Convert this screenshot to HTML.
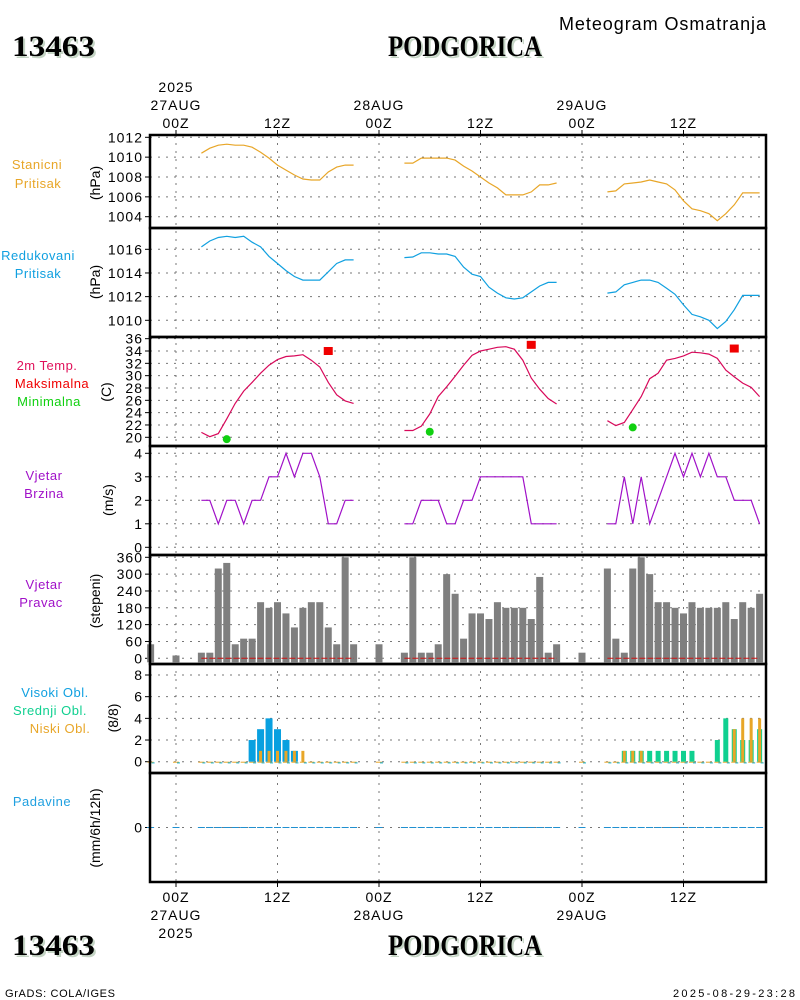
<!DOCTYPE html>
<html><head><meta charset="utf-8"><title>Meteogram Osmatranja - Podgorica</title>
<style>
html,body{margin:0;padding:0;background:#fff;}
svg{display:block;}
text{font-family:"Liberation Sans",sans-serif;}
.tk{font-size:14px;fill:#000;letter-spacing:1px;}
.lab{font-size:13px;letter-spacing:0.5px;}
.ttl{font-family:"Liberation Serif",serif;font-weight:bold;font-size:30px;}
</style></head>
<body>
<svg id="chart" width="800" height="1000" viewBox="0 0 800 1000" xmlns="http://www.w3.org/2000/svg">
  <g>
    <text x="14" y="58" class="ttl" fill="#c5d5c5" textLength="83" lengthAdjust="spacingAndGlyphs">13463</text>
    <text x="12" y="56" class="ttl" fill="#000" textLength="83" lengthAdjust="spacingAndGlyphs">13463</text>
    <text x="390" y="58" class="ttl" fill="#c5d5c5" textLength="154" lengthAdjust="spacingAndGlyphs">PODGORICA</text>
    <text x="388" y="56" class="ttl" fill="#000" textLength="154" lengthAdjust="spacingAndGlyphs">PODGORICA</text>
    <text x="559" y="30" font-size="18" textLength="207">Meteogram Osmatranja</text>
  </g>
  <g>
    <text x="14" y="957" class="ttl" fill="#c5d5c5" textLength="83" lengthAdjust="spacingAndGlyphs">13463</text>
    <text x="12" y="955" class="ttl" fill="#000" textLength="83" lengthAdjust="spacingAndGlyphs">13463</text>
    <text x="390" y="957" class="ttl" fill="#c5d5c5" textLength="154" lengthAdjust="spacingAndGlyphs">PODGORICA</text>
    <text x="388" y="955" class="ttl" fill="#000" textLength="154" lengthAdjust="spacingAndGlyphs">PODGORICA</text>
    <text x="5" y="997" font-size="11" textLength="110">GrADS: COLA/IGES</text>
    <text x="795" y="997" font-size="11" text-anchor="end" textLength="122">2025-08-29-23:28</text>
  </g>
  <g>
    <text x="37" y="169" class="lab" fill="#e8a628" text-anchor="middle">Stanicni</text>
    <text x="38" y="188" class="lab" fill="#e8a628" text-anchor="middle">Pritisak</text>
    <text x="38" y="260" class="lab" fill="#10a0e0" text-anchor="middle">Redukovani</text>
    <text x="38" y="278" class="lab" fill="#10a0e0" text-anchor="middle">Pritisak</text>
    <text x="47" y="370" class="lab" fill="#e0105a" text-anchor="middle">2m Temp.</text>
    <text x="52" y="388" class="lab" fill="#f00000" text-anchor="middle">Maksimalna</text>
    <text x="49" y="406" class="lab" fill="#10d010" text-anchor="middle">Minimalna</text>
    <text x="44" y="480" class="lab" fill="#a010c8" text-anchor="middle">Vjetar</text>
    <text x="44" y="498" class="lab" fill="#a010c8" text-anchor="middle">Brzina</text>
    <text x="44" y="589" class="lab" fill="#a010c8" text-anchor="middle">Vjetar</text>
    <text x="41" y="607" class="lab" fill="#a010c8" text-anchor="middle">Pravac</text>
    <text x="55" y="697" class="lab" fill="#10a0e0" text-anchor="middle">Visoki Obl.</text>
    <text x="50" y="715" class="lab" fill="#10d090" text-anchor="middle">Srednji Obl.</text>
    <text x="60" y="733" class="lab" fill="#e8a628" text-anchor="middle">Niski Obl.</text>
    <text x="42" y="806" class="lab" fill="#20a0e0" text-anchor="middle">Padavine</text>
  </g>
  <g font-size="14">
    <text transform="translate(100,183) rotate(-90)" text-anchor="middle">(hPa)</text>
    <text transform="translate(100,282) rotate(-90)" text-anchor="middle">(hPa)</text>
    <text transform="translate(111,392) rotate(-90)" text-anchor="middle">(C)</text>
    <text transform="translate(113,500) rotate(-90)" text-anchor="middle">(m/s)</text>
    <text transform="translate(100,601) rotate(-90)" text-anchor="middle">(stepeni)</text>
    <text transform="translate(118,718) rotate(-90)" text-anchor="middle">(8/8)</text>
    <text transform="translate(100,828) rotate(-90)" text-anchor="middle">(mm/6h/12h)</text>
  </g>
  <g id="plot"></g>
</svg>
<script>
// ---- data (hour offsets from 2025-08-27 00Z) ----
const segStarts = [3, 27, 51];
const stnP1 = [1010.4,1010.9,1011.2,1011.3,1011.2,1011.2,1011.0,1010.5,1009.9,1009.2,1008.7,1008.2,1007.8,1007.7,1007.7,1008.5,1009.0,1009.2,1009.2];
const stnP2 = [1009.4,1009.4,1009.9,1009.9,1009.9,1009.9,1009.7,1009.1,1008.6,1008.0,1007.4,1006.9,1006.2,1006.2,1006.2,1006.5,1007.2,1007.2,1007.4];
const stnP3 = [1006.5,1006.6,1007.3,1007.4,1007.5,1007.7,1007.5,1007.3,1006.7,1005.6,1004.8,1004.6,1004.3,1003.6,1004.3,1005.2,1006.4,1006.4,1006.4];
const redP1 = [1016.2,1016.7,1017.0,1017.1,1017.0,1017.1,1016.6,1016.2,1015.4,1014.8,1014.2,1013.7,1013.4,1013.4,1013.4,1014.1,1014.8,1015.1,1015.1];
const redP2 = [1015.3,1015.35,1015.7,1015.7,1015.6,1015.6,1015.4,1014.5,1013.9,1013.7,1012.8,1012.3,1011.9,1011.8,1011.9,1012.4,1012.9,1013.2,1013.2];
const redP3 = [1012.3,1012.4,1013.0,1013.2,1013.4,1013.4,1013.2,1012.7,1012.2,1011.3,1010.5,1010.3,1010.0,1009.3,1009.9,1010.9,1012.1,1012.1,1012.1];
const temp1 = [20.8,20.1,20.6,23.0,25.5,27.5,28.9,30.4,31.7,32.6,33.1,33.2,33.4,32.5,31.4,28.9,26.9,25.9,25.5];
const temp2 = [21.1,21.1,21.8,23.8,26.6,28.2,29.9,31.7,33.3,34.0,34.3,34.6,34.7,34.3,32.5,29.6,27.8,26.3,25.4];
const temp3 = [22.7,21.9,22.4,24.5,26.6,29.5,30.4,32.5,32.8,33.2,33.8,33.7,33.5,32.8,30.9,29.8,28.8,28.1,26.6];
const wspd1 = [2,2,1,2,2,1,2,2,3,3,4,3,4,4,3,1,1,2,2];
const wspd2 = [1,1,2,2,2,1,1,2,2,3,3,3,3,3,3,1,1,1,1];
const wspd3 = [1,1,3,1,3,1,2,3,4,3,4,3,4,3,3,2,2,2,1];
const tmaxHours = [18, 42, 66];
const tmaxValues = [34.0, 35.0, 34.4];
const tminHours = [6, 30, 54];
const tminValues = [19.7, 20.9, 21.6];
const dirHours = [-3,0,3,4,5,6,7,8,9,10,11,12,13,14,15,16,17,18,19,20,21,24,27,28,29,30,31,32,33,34,35,36,37,38,39,40,41,42,43,44,45,48,51,52,53,54,55,56,57,58,59,60,61,62,63,64,65,66,67,68,69];
const dirValues = [50,10,20,20,320,340,50,70,70,200,180,200,160,110,180,200,200,110,50,360,50,50,20,360,20,20,50,300,230,70,160,160,140,200,180,180,180,140,290,20,50,20,320,70,20,320,360,300,200,200,180,160,200,180,180,180,200,140,200,180,230];
const highCloudHours = [9,10,11,12,13,14];
const highCloudValues = [2,3,4,3,2,1];
const midCloudHours = [53,54,55,56,57,58,59,60,61,64,65,66,67,68,69];
const midCloudValues = [1,1,1,1,1,1,1,1,1,2,4,3,2,2,3];
const lowCloudHours = [10,11,12,13,14,15,53,54,55,66,67,68,69];
const lowCloudValues = [1,1,1,1,1,1,1,1,1,3,4,4,4];
const p1Ticks = [1012,1010,1008,1006,1004];
const p2Ticks = [1016,1014,1012,1010];
const tTicks = [36,34,32,30,28,26,24,22,20];
const wsTicks = [4,3,2,1,0];
const wdTicks = [360,300,240,180,120,60,0];
const clTicks = [8,6,4,2,0];
const prTicks = [0];
const timeTicks = [0,12,24,36,48,60];
const timeTopLabels = [["2025","27AUG","00Z"],["","","12Z"],["","28AUG","00Z"],["","","12Z"],["","29AUG","00Z"],["","","12Z"]];
const timeBotLabels = [["00Z","27AUG","2025"],["12Z","",""],["00Z","28AUG",""],["12Z","",""],["00Z","29AUG",""],["12Z","",""]];

// ---- layout ----
const NS = "http://www.w3.org/2000/svg";
const plot = document.getElementById('plot');
const X0 = 150, X1 = 766;
const xs = h => 176 + h * 101.5 / 12;
function lin(v0, y0, v1, y1){ return v => y0 + (v - v0) * (y1 - y0) / (v1 - v0); }
const yP1 = lin(1012, 137.3, 1004, 216.7);
const yP2 = lin(1016, 249.3, 1010, 320.3);
const yT = lin(34, 351, 20, 437.3);
const yWS = lin(4, 453.3, 0, 547.3);
const yWD = lin(360, 557.3, 0, 658.3);
const yCL = lin(8, 675, 0, 761.7);
const yPR = v => 827.5 - v * 20;
const panelEdges = [135, 228, 337, 446, 555, 664, 773, 882];

function mk(tag, attrs, parent){
  const e = document.createElementNS(NS, tag);
  for (const k in attrs) e.setAttribute(k, attrs[k]);
  (parent || plot).appendChild(e);
  return e;
}

const gridG = mk('g', {});


function yAxis(ticks, ys, name){
  ticks.forEach(t => {
    const y = ys(t);
    const gl = mk('line', {x1: X0, x2: X1, y1: y, y2: y, stroke: '#777', 'stroke-width': 1, 'stroke-dasharray': '2,6'}, gridG);
    
    
    const tm = mk('line', {x1: X0 - 5, x2: X0, y1: y, y2: y, stroke: '#000', 'stroke-width': 1}, gridG);
    
    
    const tx = mk('text', {x: X0 - 7, y: y + 5, 'text-anchor': 'end', class: 'tk'}, gridG);
    tx.textContent = t;
    
    
  });
}
yAxis(p1Ticks, yP1, 'station-pressure-axis');
yAxis(p2Ticks, yP2, 'reduced-pressure-axis');
yAxis(tTicks, yT, 'temperature-axis');
yAxis(wsTicks, yWS, 'wind-speed-axis');
yAxis(wdTicks, yWD, 'wind-direction-axis');
yAxis(clTicks, yCL, 'cloud-axis');
yAxis(prTicks, yPR, 'precip-axis');

timeTicks.forEach((h, i) => {
  const x = xs(h);
  const vl = mk('line', {x1: x, x2: x, y1: 135, y2: 882, stroke: '#777', 'stroke-width': 1, 'stroke-dasharray': '2,6'}, gridG);
  
  
  const t1 = mk('line', {x1: x, x2: x, y1: 130, y2: 135, stroke: '#000'}, gridG);
  
  
  const t2 = mk('line', {x1: x, x2: x, y1: 882, y2: 887, stroke: '#000'}, gridG);
  
  
  [92, 110, 128].forEach((y, j) => {
    if (!timeTopLabels[i][j]) return;
    const t = mk('text', {x: x, y: y, 'text-anchor': 'middle', class: 'tk'}, gridG);
    t.textContent = timeTopLabels[i][j];
    
    
  });
  [902, 920, 938].forEach((y, j) => {
    if (!timeBotLabels[i][j]) return;
    const t = mk('text', {x: x, y: y, 'text-anchor': 'middle', class: 'tk'}, gridG);
    t.textContent = timeBotLabels[i][j];
    
    
  });
});

function drawLine(vals, start, ys, color, name){
  const pts = vals.map((v, i) => xs(start + i).toFixed(1) + ',' + ys(v).toFixed(1)).join(' ');
  const p = mk('polyline', {points: pts, fill: 'none', stroke: color, 'stroke-width': 1.2});
  
  
}
[stnP1, stnP2, stnP3].forEach((s, i) => drawLine(s, segStarts[i], yP1, '#e8a628', 'station-pressure-line'));
[redP1, redP2, redP3].forEach((s, i) => drawLine(s, segStarts[i], yP2, '#10a0e0', 'reduced-pressure-line'));
[temp1, temp2, temp3].forEach((s, i) => drawLine(s, segStarts[i], yT, '#d8085a', 'temperature-line'));
[wspd1, wspd2, wspd3].forEach((s, i) => drawLine(s, segStarts[i], yWS, '#a010c8', 'wind-speed-line'));

tmaxHours.forEach((h, i) => {
  const r = mk('rect', {x: xs(h) - 4.5, y: yT(tmaxValues[i]) - 4, width: 9, height: 8, fill: '#f00000'});
  
  
});
tminHours.forEach((h, i) => {
  const c = mk('circle', {cx: xs(h), cy: yT(tminValues[i]), r: 4, fill: '#10d010'});
  
  
});

dirHours.forEach((h, i) => {
  const y = yWD(dirValues[i]);
  const b = mk('rect', {x: xs(h) - 3.5, y: y, width: 7, height: yWD(0) - y + 4, fill: '#7f7f7f'});
  
  
});
segStarts.forEach(s => {
  const l = mk('line', {x1: xs(s), x2: xs(s + 18), y1: yWD(0), y2: yWD(0), stroke: '#d01010', 'stroke-width': 1, 'stroke-dasharray': '6,2'});
  
  
});
dirHours.forEach(h => {
  const a = mk('line', {x1: xs(h) - 3, x2: xs(h) + 3, y1: yCL(0) + 0.5, y2: yCL(0) + 0.5, stroke: '#e8a628', 'stroke-width': 1});
  
  
  const b = mk('line', {x1: xs(h) + 1, x2: xs(h) + 4, y1: yCL(0) + 1.2, y2: yCL(0) + 1.2, stroke: '#10b0d0', 'stroke-width': 1});
  
  
  const p = mk('line', {x1: xs(h) - 3.5, x2: xs(h) + 3.5, y1: yPR(0), y2: yPR(0), stroke: '#2090d0', 'stroke-width': 1});
  
  
});
function cloudBars(hours, vals, w, color, name){
  hours.forEach((h, i) => {
    const y = yCL(vals[i]);
    const r = mk('rect', {x: xs(h) - w / 2, y: y, width: w, height: yCL(0) - y, fill: color});
    
    
  });
}
cloudBars(highCloudHours, highCloudValues, 7, '#08a0e0', 'high-cloud-bar');
cloudBars(midCloudHours, midCloudValues, 5, '#10d090', 'mid-cloud-bar');
cloudBars(lowCloudHours, lowCloudValues, 3, '#e8a628', 'low-cloud-bar');

panelEdges.slice(0, -1).forEach((y0, i) => {
  const f = mk('rect', {x: X0, y: y0, width: X1 - X0, height: panelEdges[i + 1] - y0, fill: 'none', stroke: '#000', 'stroke-width': 2.5});
  
  
});
</script>
</body></html>
